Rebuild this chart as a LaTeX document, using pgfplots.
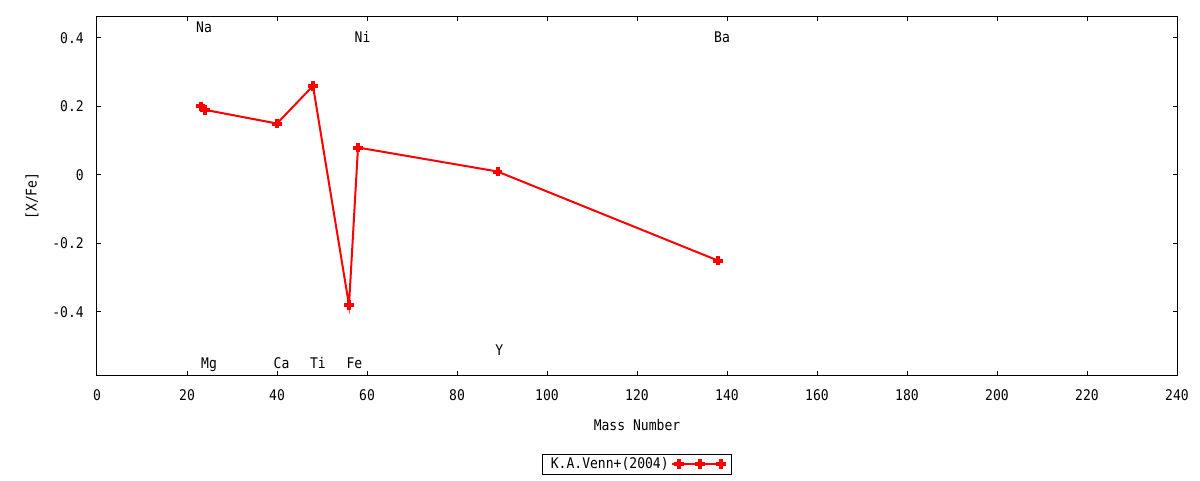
\documentclass[border=0pt]{standalone}
\usepackage{fontspec}
\setmainfont[FakeStretch=0.89]{DejaVu Sans Mono}
\usepackage{pgfplots}
\pgfplotsset{compat=1.18}
\usetikzlibrary{calc}
\begin{document}
\fontsize{11pt}{13pt}\selectfont
\begin{tikzpicture}
\begin{axis}[
  scale only axis,
  width=810pt, height=268.5pt,
  xmin=0, xmax=240, ymin=-0.584, ymax=0.461,
  xtick={0,20,...,240},
  ytick={-0.4,-0.2,0,0.2,0.4},
  yticklabels={-0.4,-0.2,0,0.2,0.4},
  tick align=inside,
  major tick length=3pt,
  tick style={black, line width=0.75pt},
  axis line style={line width=0.75pt},
  /pgf/number format/assume math mode=true,
  xticklabel style={anchor=north, inner sep=0pt, yshift=-10.5pt},
  yticklabel style={anchor=east, inner sep=0pt, xshift=-9.75pt},
  xlabel={Mass Number},
  ylabel={[X/Fe]},
  xlabel style={at={(axis description cs:0.5,-0.1397)}, anchor=center},
  ylabel style={at={(axis description cs:-0.0602,0.5)}, anchor=center, rotate=0},
  legend style={at={(axis description cs:0.5,-0.249)}, anchor=center,
    draw=black, line width=0.75pt, inner xsep=4pt, inner ysep=0.5pt,
    font=\fontsize{11pt}{13pt}\selectfont},
  legend plot pos=right,
  legend cell align=left,
  legend image code/.code={
    \path (-3pt,0pt) -- (0pt,0pt);
    \draw[#1, mark repeat=1] plot coordinates {(2pt,0pt) (17.75pt,0pt) (33.5pt,0pt)};
  },
  clip=false,
]
\addplot[red, line width=1.5pt, mark=+, mark size=3.6pt, mark options={line width=3pt, solid}]
  coordinates {
  (23,0.20) (24,0.19) (40,0.15) (48,0.26)
  (56,-0.38) (58,0.08) (89,0.01) (138,-0.25)
  };
\addlegendentry{K.A.Venn+(2004)}
\node[anchor=base] at (axis cs:23.8,0.415) {Na};
\node[anchor=base] at (axis cs:24.9,-0.566) {Mg};
\node[anchor=base] at (axis cs:41.0,-0.566) {Ca};
\node[anchor=base] at (axis cs:49.1,-0.566) {Ti};
\node[anchor=base] at (axis cs:57.2,-0.566) {Fe};
\node[anchor=base] at (axis cs:59.0,0.386) {Ni};
\node[anchor=base] at (axis cs:89.4,-0.526) {Y};
\node[anchor=base] at (axis cs:138.9,0.386) {Ba};
\end{axis}
\pgfresetboundingbox
\path ($(current axis.south west)+(-72.75pt,-78.75pt)$) rectangle ($(current axis.north east)+(17.25pt,12.75pt)$);
\end{tikzpicture}
\end{document}
